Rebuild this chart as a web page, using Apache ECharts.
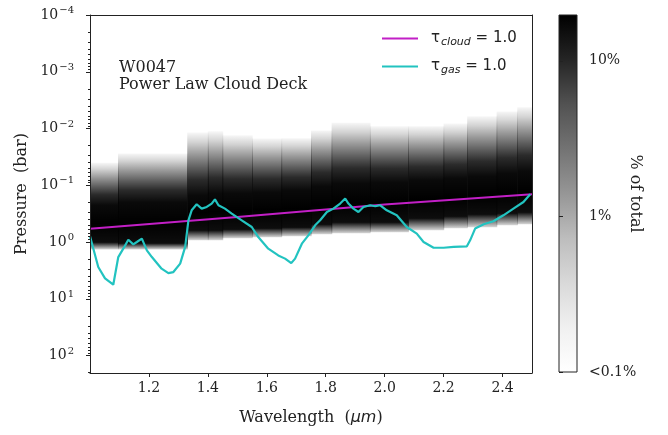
<!DOCTYPE html>
<html><head><meta charset="utf-8">
<script src="https://cdn.jsdelivr.net/npm/echarts@6/dist/echarts.min.js"></script>
<style>html,body{margin:0;padding:0;background:#fff}#c{width:668px;height:435px}</style>
</head><body><div id="c"></div>
<script>
// ---- Heatmap columns (cloud-deck pressure distribution), wavelength bins in µm, pressures in bar
const binStart   = [1.00, 1.095, 1.33, 1.40, 1.45, 1.55, 1.65, 1.75, 1.82, 1.95, 2.08, 2.20, 2.28, 2.38, 2.45];
const binEnd     = [1.095, 1.33, 1.40, 1.45, 1.55, 1.65, 1.75, 1.82, 1.95, 2.08, 2.20, 2.28, 2.38, 2.45, 2.50];
const faintTop   = [0.040, 0.0275, 0.0118, 0.0112, 0.0132, 0.0150, 0.0148, 0.0108, 0.0079, 0.0091, 0.0091, 0.0082, 0.0061, 0.0050, 0.0042];
const coreTop    = [0.225, 0.199, 0.150, 0.138, 0.138, 0.133, 0.122, 0.104, 0.092, 0.0885, 0.0815, 0.0752, 0.0693, 0.0614, 0.0565];
const coreBottom = [1.01, 1.05, 0.622, 0.622, 0.597, 0.573, 0.551, 0.488, 0.449, 0.449, 0.382, 0.352, 0.325, 0.312, 0.299];
const faintBottom= [1.35, 1.35, 0.933, 0.933, 0.860, 0.826, 0.794, 0.731, 0.702, 0.674, 0.622, 0.573, 0.551, 0.507, 0.488];

// ---- tau_cloud = 1 line
const cloudWl = [1.0, 1.5, 2.0, 2.5];
const cloudP  = [0.585, 0.362, 0.219, 0.144];

// ---- tau_gas = 1 curve
const gasWl = [1.000,1.028,1.051,1.079,1.085,1.096,1.113,1.130,1.147,1.159,1.176,1.193,1.210,1.243,1.266,1.283,1.306,1.323,1.334,1.345,1.362,1.379,1.396,1.413,1.424,1.436,1.458,1.481,1.515,1.549,1.571,1.605,1.639,1.662,1.683,1.696,1.719,1.741,1.764,1.781,1.804,1.826,1.849,1.866,1.877,1.894,1.911,1.928,1.951,1.968,1.985,2.007,2.041,2.075,2.109,2.132,2.166,2.200,2.234,2.279,2.290,2.307,2.336,2.369,2.403,2.437,2.471,2.494];
const gasP  = [0.79,2.76,4.37,5.65,5.35,1.84,1.31,0.91,1.10,1.00,0.87,1.40,1.84,2.95,3.52,3.38,2.40,1.22,0.414,0.276,0.216,0.258,0.241,0.210,0.177,0.225,0.258,0.315,0.414,0.543,0.817,1.31,1.72,1.96,2.35,1.96,1.07,0.762,0.507,0.414,0.296,0.258,0.210,0.171,0.210,0.258,0.296,0.241,0.225,0.234,0.225,0.276,0.338,0.543,0.711,1.00,1.26,1.26,1.22,1.19,0.933,0.580,0.487,0.431,0.338,0.258,0.197,0.144];

// ---- axes ticks
const xTicks = [1.2, 1.4, 1.6, 1.8, 2.0, 2.2, 2.4];
const pDecades = [1e-4, 1e-3, 1e-2, 1e-1, 1e0, 1e1, 1e2];
const pMin = 1e-4, pMax = 203;
const cbTicks = [0.1, 1, 10];
const cbLabels = ['<0.1%', '1%', '10%'];
const cbMin = 0.1, cbMax = 19.7;
const greys = ['#ffffff','#f0f0f0','#d9d9d9','#bdbdbd','#969696','#737373','#525252','#252525','#000000'];

const pMinor = [];
pDecades.forEach(d => { for (let k = 2; k <= 9; k++) { const v = k * d; if (v <= pMax) pMinor.push(v); } });

const heatData = binStart.map((s, i) => [s, binEnd[i], faintTop[i], coreTop[i], coreBottom[i], faintBottom[i]]);
const cloudData = cloudWl.map((w, i) => [w, cloudP[i]]);
const gasData = gasWl.map((w, i) => [w, gasP[i]]);

const TXT = '#222';
const SERIF = 'DejaVu Serif';
const SANS = 'DejaVu Sans';

function renderHeat(params, api) {
  const x0 = api.value(0), x1 = api.value(1);
  const a = api.coord([x0, api.value(2)]);
  const b = api.coord([x1, api.value(5)]);
  const yCt = api.coord([x0, api.value(3)])[1];
  const yCb = api.coord([x0, api.value(4)])[1];
  const h = b[1] - a[1];
  const f1 = (yCt - a[1]) / h, f2 = (yCb - a[1]) / h;
  return {
    type: 'rect',
    shape: { x: a[0], y: a[1], width: b[0] - a[0] + 0.6, height: h },
    style: { fill: new echarts.graphic.LinearGradient(0, 0, 0, 1, [
      { offset: 0, color: 'rgba(0,0,0,0.03)' },
      { offset: f1 * 0.15, color: 'rgba(0,0,0,0.17)' },
      { offset: f1 * 0.35, color: 'rgba(0,0,0,0.4)' },
      { offset: f1 * 0.55, color: 'rgba(0,0,0,0.62)' },
      { offset: f1 * 0.75, color: 'rgba(0,0,0,0.83)' },
      { offset: f1, color: 'rgba(0,0,0,0.96)' },
      { offset: (f1 + f2) / 2, color: 'rgba(0,0,0,1)' },
      { offset: f2, color: 'rgba(0,0,0,0.95)' },
      { offset: 1, color: 'rgba(0,0,0,0.15)' }
    ]) }
  };
}

function renderBar(params, api) {
  const cs = params.coordSys;
  const n = greys.length;
  const stops = greys.map((c, i) => ({ offset: 1 - i / (n - 1), color: c }));
  return { type: 'rect', shape: { x: cs.x, y: cs.y, width: cs.width, height: cs.height },
    style: { fill: new echarts.graphic.LinearGradient(0, 0, 0, 1, stops.reverse()) } };
}

const supFmt = v => {
  const e = Math.round(Math.log10(v));
  return '{b|10}{s|' + (e < 0 ? '\u2212' + (-e) : e) + '}';
};

const axisLineStyle = { lineStyle: { color: TXT, width: 1 } };

const option = {
  animation: false,
  backgroundColor: '#fff',
  title: {
    text: 'W0047\nPower Law Cloud Deck',
    left: 119, top: 59, padding: 0,
    textStyle: { fontFamily: SERIF, fontSize: 16, fontWeight: 'normal', color: TXT, lineHeight: 17 }
  },
  legend: {
    data: ['tau_cloud', 'tau_gas'],
    left: 382, top: 29, orient: 'vertical', padding: 0,
    icon: 'rect', itemWidth: 36, itemHeight: 2, itemGap: 9,
    formatter: name => name === 'tau_cloud' ? '{t|τ}{s|cloud}{u| = 1.0}' : '{t|τ}{s|gas}{u| = 1.0}',
    textStyle: {
      color: TXT,
      rich: {
        t: { fontFamily: SANS, fontSize: 15, color: TXT, lineHeight: 20, padding: [0, 0, 0, 8] },
        s: { fontFamily: SANS, fontStyle: 'italic', fontSize: 11, color: TXT, lineHeight: 11, padding: [8, 0, 0, 1] },
        u: { fontFamily: SANS, fontSize: 15, color: TXT, lineHeight: 20 }
      }
    }
  },
  grid: [
    { left: 90, top: 15, width: 442, height: 358, outerBoundsMode: 'none' },
    { left: 559, top: 15, width: 18, height: 357, outerBoundsMode: 'none', show: true, borderColor: TXT, borderWidth: 1, z: 5 }
  ],
  xAxis: [
    {
      type: 'value', gridIndex: 0, min: 1.0, max: 2.5, z: 5,
      axisLine: axisLineStyle,
      axisTick: { show: true, length: 4, lineStyle: { color: TXT }, customValues: xTicks },
      axisLabel: { customValues: xTicks, formatter: v => v.toFixed(1), margin: 8, fontFamily: SERIF, fontSize: 14, color: TXT },
      splitLine: { show: false },
      name: '{n|Wavelength  (}{i|μm}{n|)}', nameLocation: 'middle', nameGap: 37,
      nameTextStyle: { rich: { n: { fontFamily: SERIF, fontSize: 16, color: TXT }, i: { fontFamily: SANS, fontStyle: 'italic', fontSize: 16, color: TXT } } }
    },
    {
      type: 'value', gridIndex: 0, min: 1.0, max: 2.5, position: 'top', z: 5,
      axisLine: axisLineStyle, axisTick: { show: false }, axisLabel: { show: false }, splitLine: { show: false }
    },
    {
      type: 'value', gridIndex: 1, min: 0, max: 1, show: false
    }
  ],
  yAxis: [
    {
      type: 'log', logBase: 10, gridIndex: 0, min: pMin, max: pMax, inverse: true, position: 'left', z: 5,
      axisLine: { show: true, lineStyle: { color: TXT, width: 1 } },
      axisTick: { show: true, length: 4, lineStyle: { color: TXT }, customValues: pDecades },
      axisLabel: {
        customValues: pDecades, formatter: supFmt, margin: 16, color: TXT,
        rich: {
          b: { fontFamily: SERIF, fontSize: 14, color: TXT, lineHeight: 18 },
          s: { fontFamily: SERIF, fontSize: 10, color: TXT, lineHeight: 10, padding: [0, 0, 9, 1] }
        }
      },
      splitLine: { show: false },
      name: 'Pressure  (bar)', nameLocation: 'middle', nameGap: 58,
      nameTextStyle: { fontFamily: SERIF, fontSize: 16, color: TXT }
    },
    {
      type: 'log', logBase: 10, gridIndex: 0, min: pMin, max: pMax, inverse: true, position: 'left', z: 5,
      axisLine: { show: false },
      axisTick: { show: true, length: 2, lineStyle: { color: TXT }, customValues: pMinor },
      axisLabel: { show: false }, splitLine: { show: false }
    },
    {
      type: 'log', logBase: 10, gridIndex: 0, min: pMin, max: pMax, inverse: true, position: 'right', z: 5,
      axisLine: { show: true, lineStyle: { color: TXT, width: 1 } },
      axisTick: { show: false }, axisLabel: { show: false }, splitLine: { show: false }
    },
    {
      type: 'log', logBase: 10, gridIndex: 1, min: cbMin, max: cbMax, position: 'right', z: 5,
      axisLine: { show: false },
      axisTick: { show: true, length: 4, lineStyle: { color: TXT }, customValues: cbTicks },
      axisLabel: { customValues: cbTicks, formatter: v => cbLabels[cbTicks.findIndex(t => Math.abs(Math.log10(t) - Math.log10(v)) < 0.01)],
        margin: 12, fontFamily: SERIF, fontSize: 14, color: TXT },
      splitLine: { show: false },
      name: '% of total', nameLocation: 'middle', nameRotate: -90, nameGap: 50, nameMoveOverlap: false,
      nameTextStyle: { fontFamily: SERIF, fontSize: 16, color: TXT }
    }
  ],
  series: [
    {
      type: 'custom', name: 'distribution', xAxisIndex: 0, yAxisIndex: 0, z: 1,
      renderItem: renderHeat, data: heatData, encode: { x: [0, 1], y: [2, 3, 4, 5] }, silent: true
    },
    {
      type: 'line', name: 'tau_cloud', xAxisIndex: 0, yAxisIndex: 0, z: 3,
      data: cloudData, symbol: 'none', lineStyle: { color: '#c21fc6', width: 2 }, itemStyle: { color: '#c21fc6' }
    },
    {
      type: 'line', name: 'tau_gas', xAxisIndex: 0, yAxisIndex: 0, z: 4,
      data: gasData, symbol: 'none', lineStyle: { color: '#22c3c0', width: 2.2 }, itemStyle: { color: '#22c3c0' }
    },
    {
      type: 'custom', name: 'colorbar', xAxisIndex: 2, yAxisIndex: 3, z: 1,
      renderItem: renderBar, data: [[0.5, 1]], silent: true
    }
  ]
};

const chart = echarts.init(document.getElementById('c'));
chart.setOption(option);
</script>
</body></html>
